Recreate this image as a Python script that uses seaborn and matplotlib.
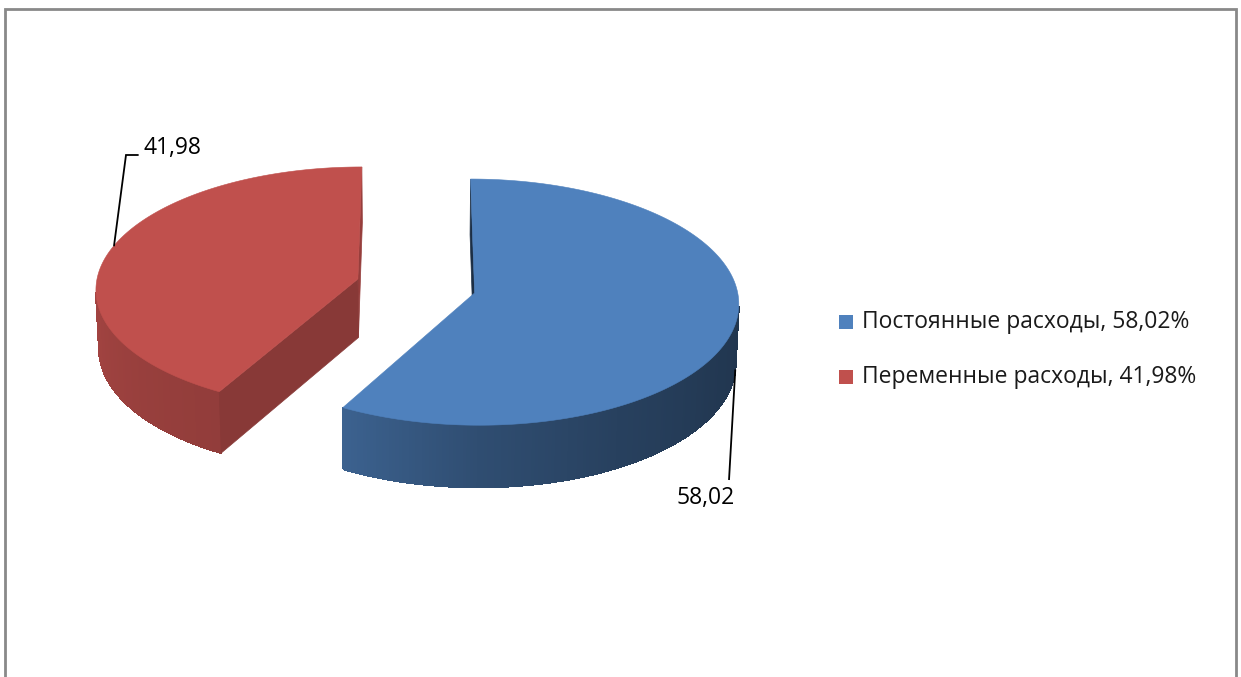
import numpy as np
import matplotlib
matplotlib.use("Agg")
import matplotlib.pyplot as plt
from matplotlib.patches import Polygon, Rectangle
import seaborn as sns

# --- data -------------------------------------------------------------
categories = ["Постоянные расходы", "Переменные расходы"]
values = [58.02, 41.98]
value_labels = ["58,02", "41,98"]
legend_labels = ["Постоянные расходы, 58,02%", "Переменные расходы, 41,98%"]
colors = ["#4F81BD", "#C0504D"]

sns.set_theme(style="white")
plt.rcParams["font.family"] = ["Open Sans", "DejaVu Sans"]

W, H = 1241, 677
fig = plt.figure(figsize=(W / 100, H / 100), dpi=100)
ax = fig.add_axes([0, 0, 1, 1])
ax.set_xlim(0, W)
ax.set_ylim(H, 0)
ax.axis("off")

# --- 3D pie projection ------------------------------------------------
phi = np.radians(27.6)          # elevation of the viewer
D = 12.0                        # viewer distance (in radii)
F = 262 * D                     # pixel scale
cx, cy = 416, 286               # screen position of pie centre
depth = 0.255                   # thickness (in radii)
explode = 0.23                  # explosion offset (in radii)
cam = np.array([0.0, -D * np.cos(phi), D * np.sin(phi)])


def proj(x, y, z):
    d = D + y * np.cos(phi) - z * np.sin(phi)
    u = y * np.sin(phi) + z * np.cos(phi)
    return cx + F * x / d, cy - F * u / d


def shade(c, f):
    rgb = np.array(matplotlib.colors.to_rgb(c))
    return tuple(np.clip(rgb * f, 0, 1))


def wall_factor(t):
    t = t % 360
    return np.interp(t, [0, 150, 180, 220, 241, 270, 300, 330, 360],
                     [0.41, 0.9, 0.86, 0.79, 0.76, 0.6, 0.5, 0.44, 0.41])


def radial_factor(n):
    return np.interp(n % 360, [0, 90, 180, 270, 331, 360],
                     [0.78, 0.6, 0.36, 0.6, 0.71, 0.78])


total = sum(values)
slices = []
start = 90.0
for v, col in zip(values, colors):
    sweep = 360.0 * v / total
    t1, t2 = start - sweep, start
    mid = np.radians((t1 + t2) / 2)
    ox, oy = explode * np.cos(mid), explode * np.sin(mid)
    slices.append(dict(t1=t1, t2=t2, ox=ox, oy=oy, color=col))
    start = t1

# draw farthest slice first
slices.sort(key=lambda s: -(s["oy"]))

for s in slices:
    ox, oy, col = s["ox"], s["oy"], s["color"]
    ts = np.linspace(s["t1"], s["t2"], 300)
    rx = ox + np.cos(np.radians(ts))
    ry = oy + np.sin(np.radians(ts))
    faces = []

    # outer curved wall: visible segments
    vis = []
    for i in range(len(ts) - 1):
        tm = np.radians((ts[i] + ts[i + 1]) / 2)
        px, py = ox + np.cos(tm), oy + np.sin(tm)
        n = np.array([np.cos(tm), np.sin(tm), 0.0])
        vis.append(n @ (cam - np.array([px, py, -depth / 2])) > 0)
    vis = np.array(vis)
    idx = np.where(vis)[0]
    if len(idx):
        i0, i1 = idx.min(), idx.max() + 1
        top_edge = [proj(rx[i], ry[i], 0) for i in range(i0, i1 + 1)]
        bot_edge = [proj(rx[i], ry[i], -depth) for i in range(i1, i0 - 1, -1)]
        tmid = np.degrees(np.radians((ts[i0] + ts[i1]) / 2))
        # smooth outline underneath the gradient strips
        ax.add_patch(Polygon(top_edge + bot_edge, closed=True,
                             facecolor=shade(col, wall_factor(tmid)),
                             edgecolor="none", zorder=1.5))
        for i in range(i0, i1):
            tm = (ts[i] + ts[i + 1]) / 2
            quad = [proj(rx[i], ry[i], 0), proj(rx[i + 1], ry[i + 1], 0),
                    proj(rx[i + 1], ry[i + 1], -depth),
                    proj(rx[i], ry[i], -depth)]
            fc = shade(col, wall_factor(tm))
            ax.add_patch(Polygon(quad, closed=True, facecolor=fc,
                                 edgecolor=fc, linewidth=0.8,
                                 antialiased=False, zorder=1.6))
        # re-draw silhouette edges softly
        ex = [p[0] for p in top_edge + bot_edge]

    # radial cut faces
    for t, sign in ((s["t1"], -1), (s["t2"], 1)):
        tr = np.radians(t)
        na = t + sign * 90
        n = np.array([np.cos(np.radians(na)), np.sin(np.radians(na)), 0.0])
        ex_, ey_ = ox + np.cos(tr), oy + np.sin(tr)
        pm = np.array([(ox + ex_) / 2, (oy + ey_) / 2, -depth / 2])
        if n @ (cam - pm) <= 0:
            continue
        quad = [proj(ox, oy, 0), proj(ex_, ey_, 0),
                proj(ex_, ey_, -depth), proj(ox, oy, -depth)]
        fc = shade(col, radial_factor(na))
        ax.add_patch(Polygon(quad, closed=True, facecolor=fc, edgecolor=fc,
                             linewidth=0.5, zorder=1.7))

    # top face
    top = [proj(ox, oy, 0)] + [proj(x, y, 0) for x, y in zip(rx, ry)]
    ax.add_patch(Polygon(top, closed=True, facecolor=col, edgecolor=col,
                         linewidth=0.4, zorder=3))

# --- data labels with leader lines -------------------------------------
blue = [s for s in slices if s["color"] == colors[0]][0]
red = [s for s in slices if s["color"] == colors[1]][0]

tb = np.radians(-8)
bx, by = proj(blue["ox"] + np.cos(tb), blue["oy"] + np.sin(tb), -depth)
ax.plot([bx, 729], [by, 480], color="black", lw=1.3, zorder=4,
        solid_capstyle="butt")
ax.text(706, 498, value_labels[0], ha="center", va="center",
        fontsize=16.5, color="black", zorder=5)

tr_ = np.radians(163.5)
rxa, rya = proj(red["ox"] + np.cos(tr_), red["oy"] + np.sin(tr_), 0)
ax.plot([rxa, 126, 138], [rya, 155, 155], color="black", lw=1.3, zorder=4,
        solid_joinstyle="miter")
ax.text(143, 148, value_labels[1], ha="left", va="center",
        fontsize=16.5, color="black", zorder=5)

# --- legend -------------------------------------------------------------
for i, (lab, col) in enumerate(zip(legend_labels, colors)):
    yc = 322 + 55 * i
    ax.add_patch(Rectangle((839, yc - 7), 14, 14, facecolor=col,
                           edgecolor="none", zorder=5))
    ax.text(862, yc, lab, ha="left", va="center", fontsize=16.5,
            color="#1a1a1a", zorder=5)

# --- chart frame --------------------------------------------------------
ax.plot([5, 5, 1236, 1236], [H + 5, 9, 9, H + 5], color="#898989", lw=2,
        zorder=6, solid_joinstyle="miter")

fig.savefig("out.png", dpi=100)
